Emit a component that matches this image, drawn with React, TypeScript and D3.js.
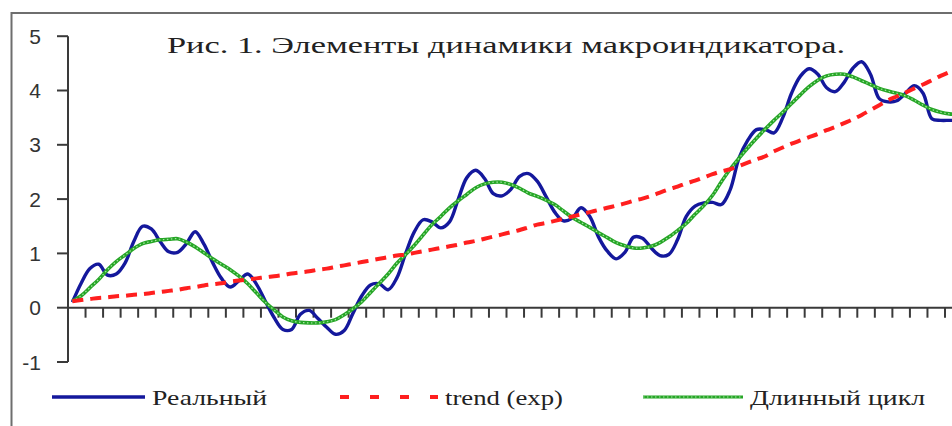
import React from "react";
import * as d3 from "d3";

const chartTitle = "Рис. 1. Элементы динамики макроиндикатора.";
const seriesNames = ["Реальный", "trend (exp)", "Длинный цикл"];
const yTickValues = [-1, 0, 1, 2, 3, 4, 5];

// observations, half a category apart
const realValues = [
  0.1, 0.45, 0.72, 0.8, 0.6, 0.62, 0.82, 1.22, 1.5, 1.45,
  1.22, 1.03, 1.02, 1.18, 1.4, 1.17, 0.83, 0.54, 0.38, 0.5,
  0.62, 0.43, 0.12, -0.18, -0.4, -0.4, -0.12, -0.05, -0.2, -0.36,
  -0.49, -0.42, -0.1, 0.22, 0.42, 0.44, 0.33, 0.55, 1.0, 1.4,
  1.62, 1.58, 1.47, 1.58, 2.0, 2.4, 2.53, 2.38, 2.1, 2.06,
  2.18, 2.42, 2.47, 2.33, 2.05, 1.76, 1.6, 1.65, 1.84, 1.68,
  1.3, 1.04, 0.9, 1.02, 1.3, 1.28, 1.1, 0.96, 0.98, 1.25,
  1.68, 1.87, 1.93, 1.94, 1.9, 2.17, 2.75, 3.08, 3.28, 3.28,
  3.22, 3.5, 3.95, 4.26, 4.4, 4.3, 4.05, 3.98, 4.15, 4.41,
  4.53, 4.3, 3.85, 3.79, 3.81, 3.95, 4.09, 3.95, 3.48, 3.45,
  3.45, 3.45,
];

const trendValues = [
  0.12, 0.14, 0.16, 0.18, 0.19, 0.21, 0.22, 0.24, 0.25, 0.27,
  0.29, 0.31, 0.33, 0.36, 0.38, 0.41, 0.43, 0.45, 0.48, 0.5,
  0.52, 0.54, 0.56, 0.58, 0.6, 0.63, 0.65, 0.67, 0.7, 0.72,
  0.75, 0.78, 0.81, 0.84, 0.87, 0.9, 0.93, 0.96, 0.98, 1.01,
  1.04, 1.07, 1.1, 1.13, 1.16, 1.2, 1.23, 1.27, 1.31, 1.35,
  1.39, 1.43, 1.48, 1.53, 1.56, 1.6, 1.64, 1.68, 1.72, 1.76,
  1.8, 1.84, 1.88, 1.92, 1.97, 2.01, 2.06, 2.12, 2.18, 2.23,
  2.29, 2.34, 2.4, 2.46, 2.51, 2.55, 2.61, 2.67, 2.73, 2.79,
  2.88, 2.95, 3.02, 3.08, 3.14, 3.2, 3.27, 3.33, 3.4, 3.47,
  3.55, 3.64, 3.73, 3.82, 3.89, 3.96, 4.04, 4.11, 4.19, 4.27,
  4.34, 4.41,
];

const longCycleValues = [
  0.12, 0.22, 0.37, 0.52, 0.7, 0.85, 0.97, 1.09, 1.18, 1.22,
  1.25, 1.26, 1.27, 1.21, 1.12, 1.01, 0.9, 0.8, 0.7, 0.58,
  0.44, 0.27, 0.1, -0.04, -0.17, -0.24, -0.27, -0.28, -0.28, -0.26,
  -0.22, -0.13, -0.02, 0.11, 0.28, 0.45, 0.62, 0.82, 0.98, 1.15,
  1.34, 1.53, 1.68, 1.84, 1.97, 2.09, 2.21, 2.28, 2.31, 2.31,
  2.27, 2.2, 2.11, 2.05, 1.98, 1.9, 1.78, 1.66, 1.57, 1.48,
  1.38, 1.29, 1.2, 1.14, 1.1, 1.1, 1.13, 1.2, 1.3, 1.42,
  1.55, 1.72, 1.88, 2.07, 2.32, 2.55, 2.75, 2.94, 3.12, 3.29,
  3.45, 3.6, 3.76, 3.92, 4.07, 4.19, 4.27, 4.3, 4.3, 4.25,
  4.18, 4.11, 4.04, 3.99, 3.95, 3.9, 3.82, 3.73, 3.65, 3.6,
  3.57, 3.56,
];

const categoryCount = 56;

export default function App() {
  const W = 952;
  const H = 426;
  const x = d3.scaleLinear().domain([0, 50]).range([68, 945]);
  const y = d3.scaleLinear().domain([-1, 5]).range([362, 36.2]);
  const pos = (i: number) => 0.25 + 0.5 * i;

  const line = d3
    .line<number>()
    .x((_, i) => x(pos(i)))
    .y((d) => y(d))
    .curve(d3.curveCatmullRom.alpha(0.5));

  const cats = d3.range(1, categoryCount);
  const axisColor = "#3a3a3a";
  const blue = "#14189c";
  const red = "#ff1f1f";
  const green = "#26a626";
  const serif = "'Liberation Serif', 'DejaVu Serif', serif";
  const sans = "'Liberation Sans', Arial, sans-serif";

  return (
    <div style={{ position: "fixed", left: 0, top: 0, width: W, height: H, background: "#fff" }}>
      <svg width={W} height={H} viewBox={`0 0 ${W} ${H}`} style={{ display: "block" }}>
        <rect x={0} y={0} width={W} height={H} fill="#fff" />
        {/* frame */}
        <rect x={11.5} y={13} width={1100} height={600} fill="none" stroke="#6e6e6e" strokeWidth={2} />

        {/* title */}
        <text
          x={167}
          y={53}
          fontFamily={serif}
          fontSize={24}
          fill="#222"
          textLength={678}
          lengthAdjust="spacingAndGlyphs"
        >
          {chartTitle}
        </text>

        {/* y axis */}
        <line x1={68} x2={68} y1={y(5)} y2={y(-1)} stroke={axisColor} strokeWidth={2} />
        {yTickValues.map((v) => (
          <g key={v}>
            <line x1={57} x2={68} y1={y(v)} y2={y(v)} stroke={axisColor} strokeWidth={2} />
            <text
              x={41}
              y={y(v)}
              dy="0.36em"
              textAnchor="end"
              fontFamily={sans}
              fontSize={21}
              fill="#333"
            >
              {v}
            </text>
          </g>
        ))}

        {/* x axis */}
        <line x1={68} x2={W + 20} y1={y(0)} y2={y(0)} stroke={axisColor} strokeWidth={2} />
        {cats.map((c) => (
          <line
            key={c}
            x1={x(c)}
            x2={x(c)}
            y1={y(0)}
            y2={y(0) + 10}
            stroke={axisColor}
            strokeWidth={2}
          />
        ))}

        {/* series */}
        <path d={line(realValues) || ""} fill="none" stroke={blue} strokeWidth={3.4} strokeLinejoin="round" />
        <path d={line(longCycleValues) || ""} fill="none" stroke={green} strokeWidth={3.6} strokeLinejoin="round" />
        <path
          d={line(longCycleValues) || ""}
          fill="none"
          stroke="#a6e6a6"
          strokeWidth={1.2}
          strokeDasharray="1.5 2.5"
        />
        <path
          d={line(trendValues) || ""}
          fill="none"
          stroke={red}
          strokeWidth={4}
          strokeDasharray="11 7"
        />

        {/* legend */}
        <line x1={52} x2={145} y1={397} y2={397} stroke={blue} strokeWidth={3.4} />
        <text x={152} y={405} fontFamily={serif} fontSize={22} fill="#222" textLength={115} lengthAdjust="spacingAndGlyphs">
          {seriesNames[0]}
        </text>

        <line x1={340} x2={438} y1={397} y2={397} stroke={red} strokeWidth={4} strokeDasharray="9 21" />
        <text x={445} y={405} fontFamily={serif} fontSize={22} fill="#222" textLength={118} lengthAdjust="spacingAndGlyphs">
          {seriesNames[1]}
        </text>

        <line x1={643} x2={743} y1={397} y2={397} stroke={green} strokeWidth={3.2} />
        <line x1={643} x2={743} y1={397} y2={397} stroke="#a6e6a6" strokeWidth={1.2} strokeDasharray="1.5 2.5" />
        <text x={750} y={405} fontFamily={serif} fontSize={22} fill="#222" textLength={175} lengthAdjust="spacingAndGlyphs">
          {seriesNames[2]}
        </text>
      </svg>
    </div>
  );
}
